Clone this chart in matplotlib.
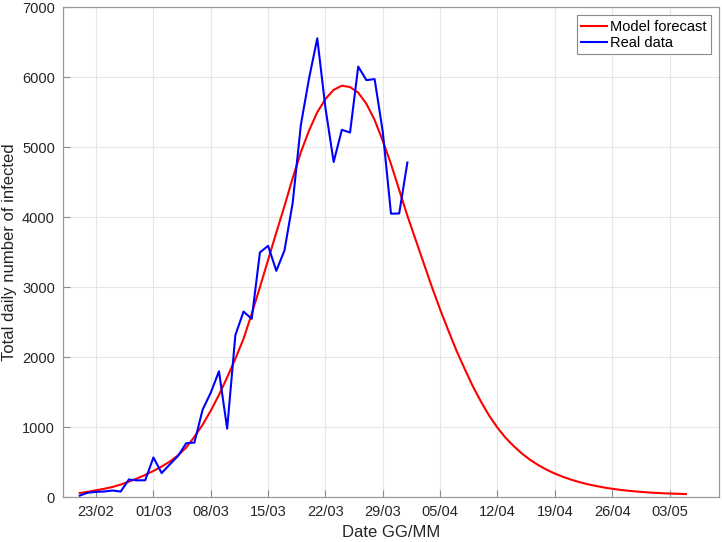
import numpy as np
import matplotlib
matplotlib.use('Agg')
import matplotlib.pyplot as plt

plt.rcParams['font.family'] = ['Liberation Sans', 'DejaVu Sans']

# daily values, model starts 21/02, real data 21/02 -> 01/04
model_start = '2020-02-21'
model = [57, 75, 96, 118, 143, 178, 220, 265, 316, 373,
         435, 507, 595, 708, 861, 1033, 1234, 1460, 1710, 1976,
         2263, 2620, 3000, 3390, 3780, 4160, 4560, 4930, 5240, 5500,
         5690, 5820, 5880, 5860, 5780, 5620, 5390, 5090, 4760, 4390,
         4020, 3680, 3340, 3000, 2680, 2380, 2090, 1830, 1580, 1360,
         1160, 990, 845, 725, 620, 530, 455, 390, 335, 288,
         248, 213, 183, 158, 136, 118, 102, 89, 78, 69,
         61, 55, 50, 46, 42]

real_start = '2020-02-21'
real = [20, 62, 73, 79, 93, 78, 250, 238, 240,
        566, 342, 466, 587, 769, 778, 1247, 1492, 1797, 977,
        2313, 2651, 2547, 3497, 3590, 3233, 3526, 4207, 5322, 5986,
        6557, 5560, 4789, 5249, 5210, 6153, 5959, 5974, 5217, 4050,
        4053, 4782]

tick_dates = ['2020-02-23', '2020-03-01', '2020-03-08', '2020-03-15', '2020-03-22',
              '2020-03-29', '2020-04-05', '2020-04-12', '2020-04-19', '2020-04-26',
              '2020-05-03']
tick_labels = ['23/02', '01/03', '08/03', '15/03', '22/03', '29/03',
               '05/04', '12/04', '19/04', '26/04', '03/05']
yticks = [0, 1000, 2000, 3000, 4000, 5000, 6000, 7000]

t_model = np.datetime64(model_start) + np.arange(len(model))
t_real = np.datetime64(real_start) + np.arange(len(real))

fig = plt.figure(figsize=(7.22, 5.42), dpi=100)
ax = fig.add_axes([0.0877, 0.083, 0.9077, 0.9035])

ax.plot(t_model, model, color='#ff0000', lw=1.5, label='Model forecast', zorder=3)
ax.plot(t_real, real, color='#0000ff', lw=1.5, label='Real data', zorder=4)

ax.set_xlim(np.datetime64('2020-02-19'), np.datetime64('2020-05-09'))
ax.set_ylim(0, 7000)
ax.set_xticks([np.datetime64(d) for d in tick_dates])
ax.set_xticklabels(tick_labels)
ax.set_yticks(yticks)

ax.grid(True, color='#e6e6e6', lw=0.8)
ax.set_axisbelow(True)
for s in ax.spines.values():
    s.set_color('#9a9a9a')
    s.set_linewidth(0.9)
ax.tick_params(direction='in', length=5, width=0.8, color='#8a8a8a',
               labelsize=10.5, labelcolor='#262626', pad=6)

ax.set_xlabel('Date GG/MM', fontsize=12, color='#262626', labelpad=4)
ax.set_ylabel('Total daily number of infected', fontsize=12, color='#262626', labelpad=4)

leg = ax.legend(loc='upper right', fontsize=10.5, fancybox=False, framealpha=1,
                edgecolor='#8a8a8a', handlelength=1.75, handletextpad=0.2,
                borderpad=0.3, labelspacing=0.15, borderaxespad=0.55)
leg.get_frame().set_linewidth(0.8)

fig.savefig('out.png', dpi=100)
